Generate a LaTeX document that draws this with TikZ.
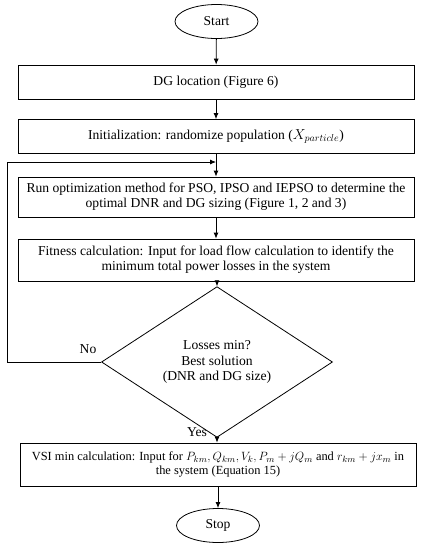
\documentclass[tikz,border=0pt]{standalone}
\usepackage{fontspec}
\setmainfont{Liberation Serif}
\usetikzlibrary{shapes.geometric,arrows.meta}
\begin{document}
\begin{tikzpicture}[x=1pt,y=-1pt,
  every node/.style={font=\fontsize{13.6}{15.2}\selectfont},
  pbox/.style={draw,line width=0.8pt,minimum width=396pt,inner sep=0pt,align=center},
  term/.style={draw,ellipse,line width=0.8pt,minimum width=83pt,minimum height=34pt,inner sep=0pt},
  dec/.style={draw,diamond,line width=0.8pt,minimum width=231pt,minimum height=118pt,inner sep=0pt,align=center},
  arr/.style={line width=0.8pt,-{Latex[length=6pt,width=5pt]}},
  lbl/.style={inner sep=0pt}]
\useasboundingbox (0,0) rectangle (421,550);
\node[term] (start) at (216.5,21.5) {Start};
\node[pbox,minimum height=34pt] (dg) at (216,82) {DG location (Figure 6)};
\node[pbox,minimum height=34pt] (init) at (216,136.5) {Initialization: randomize population ($X_{particle}$)};
\node[pbox,minimum height=40pt] (run) at (216,197) {Run optimization method for PSO, IPSO and IEPSO to determine the\\optimal DNR and DG sizing (Figure 1, 2 and 3)};
\node[pbox,minimum height=42pt] (fit) at (216,260) {Fitness calculation: Input for load flow calculation to identify the\\minimum total power losses in the system};
\node[dec] (dec) at (217,362) {Losses min?\\Best solution\\(DNR and DG size)};
\node[pbox,minimum height=43pt,font=\fontsize{12.4}{14.5}\selectfont] (vsi) at (218,464.5) {VSI min calculation: Input for $P_{km}, Q_{km}, V_k, P_m + jQ_m$ and $r_{km} + jx_m$ in\\the system (Equation 15)};
\node[term] (stop) at (218,525.5) {Stop};
\node[lbl] (no) at (88,349) {No};
\node[lbl] (yes) at (197,432) {Yes};
\coordinate (lp) at (7,162);
\coordinate (mg) at (216,162);
\draw[arr] (start) -- (dg);
\draw[arr] (dg) -- (init);
\draw[arr] (init) -- (run);
\draw[arr] (run) -- (fit);
\draw[arr] (fit.south -| dec.north) -- (dec.north);
\draw[arr] (dec.south) -- (dec.south |- vsi.north);
\draw[arr] (vsi.south) -- (stop.north);
\draw[arr] (dec.west) -| (lp) -- (mg);
\end{tikzpicture}
\end{document}
